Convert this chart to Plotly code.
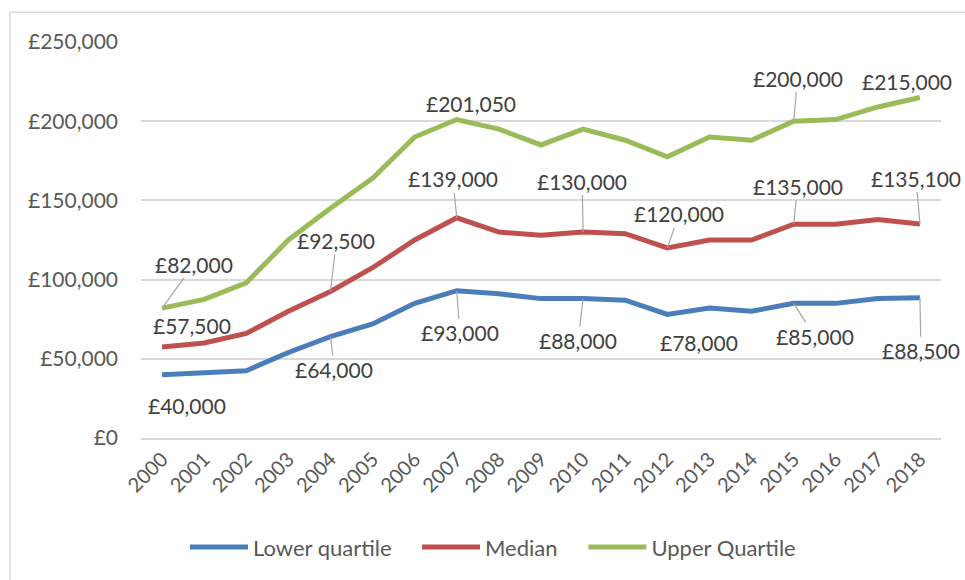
import plotly.graph_objects as go

years = list(range(2000, 2019))
lower = [40000, 41500, 42500, 54000, 64000, 72000, 85000, 93000, 91000, 88000,
         88000, 87000, 78000, 82000, 80000, 85000, 85000, 88000, 88500]
median = [57500, 60000, 66000, 80000, 92500, 107500, 125000, 139000, 130000, 128000,
          130000, 129000, 120000, 125000, 125000, 135000, 135000, 138000, 135100]
upper = [82000, 87500, 98000, 125000, 145000, 164000, 190000, 201050, 195000, 185000,
         195000, 188000, 177500, 190000, 188000, 200000, 201000, 209000, 215000]
y_ticks = [0, 50000, 100000, 150000, 200000, 250000]
y_ticktext = ["£0", "£50,000", "£100,000", "£150,000", "£200,000", "£250,000"]

series_names = ["Lower quartile", "Median", "Upper Quartile"]
colors = ["#4A7EBB", "#C0504D", "#9BBB59"]

# labelled points: (series index, year index, dx, dy, leader line shown)
labels = [
    (0, 0, 25, 31, False), (0, 4, 4, 33, True), (0, 7, 3, 42, True),
    (0, 10, -5, 42, True), (0, 12, 32, 28, False), (0, 15, 21, 33, True),
    (0, 18, 1, 53, True),
    (1, 0, 30, -21, False), (1, 4, 6, -51, True), (1, 7, -4, -39, True),
    (1, 10, -1, -51, True), (1, 12, 12, -34, True), (1, 15, 4, -38, True),
    (1, 18, -4, -46, True),
    (2, 0, 32, -44, True), (2, 7, 14, -16, False), (2, 15, 4, -43, True),
    (2, 18, -13, -16, False),
]

FONT = "Lato"
TXT = "#595959"
all_series = [lower, median, upper]
legend_ids = ["legend", "legend2", "legend3"]
legend_x = [0.055, 0.345, 0.553]

fig = go.Figure()
for name, vals, col, lid in zip(series_names, all_series, colors, legend_ids):
    fig.add_trace(go.Scatter(x=years, y=vals, mode="lines", name=name, legend=lid,
                             line=dict(color=col, width=5), hoverinfo="skip"))

annotations = []
for s, i, dx, dy, leader in labels:
    v = all_series[s][i]
    annotations.append(dict(
        x=years[i], y=v, xref="x", yref="y", text=f"£{v:,}",
        showarrow=True, arrowhead=0, arrowwidth=1.2,
        arrowcolor="#A6A6A6" if leader else "rgba(0,0,0,0)",
        ax=dx, ay=dy, axref="pixel", ayref="pixel",
        font=dict(family=FONT, size=21, color="#404040"), borderpad=1,
    ))

legend_style = dict(orientation="h", xanchor="left", y=-0.276, yanchor="middle",
                    font=dict(family=FONT, size=22, color=TXT), itemwidth=58,
                    bgcolor="rgba(0,0,0,0)")
fig.update_layout(
    width=965, height=580,
    margin=dict(l=141, r=24, t=42, b=140),
    paper_bgcolor="white", plot_bgcolor="white",
    font=dict(family=FONT, size=21, color=TXT),
    showlegend=True,
    legend=dict(x=legend_x[0], **legend_style),
    legend2=dict(x=legend_x[1], **legend_style),
    legend3=dict(x=legend_x[2], **legend_style),
    annotations=annotations,
    shapes=[dict(type="rect", xref="paper", yref="paper",
                 x0=-0.16375, x1=1.04, y0=-0.37, y1=1.0754,
                 line=dict(color="#D9D9D9", width=1.5), fillcolor="rgba(0,0,0,0)",
                 layer="below")],
)
fig.update_xaxes(range=[1999.5, 2018.5], tickmode="array", tickvals=years,
                 ticktext=[str(y) for y in years], tickangle=-45,
                 showgrid=False, zeroline=False, showline=True, linecolor="#D9D9D9",
                 linewidth=1.5, ticks="", tickfont=dict(family=FONT, size=20, color=TXT))
fig.update_yaxes(range=[0, 250000], tickmode="array", tickvals=y_ticks, ticktext=y_ticktext,
                 showgrid=True, gridcolor="#D9D9D9",
                 gridwidth=1.5, zeroline=False, showline=False, ticks="",
                 ticklabelstandoff=22, tickfont=dict(family=FONT, size=21, color=TXT))

fig.write_html("out.html", config={"displayModeBar": False},
               post_script="document.body.style.margin='0';document.body.style.overflow='hidden';")
